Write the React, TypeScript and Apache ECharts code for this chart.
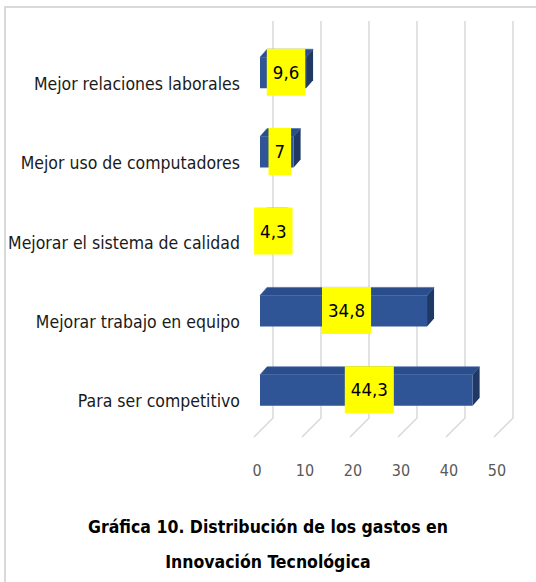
import React, { useEffect, useRef } from "react";
import * as echarts from "echarts";

const categories = [
  "Para ser competitivo",
  "Mejorar trabajo en equipo",
  "Mejorar el sistema de calidad",
  "Mejor uso de computadores",
  "Mejor relaciones laborales",
];
const values = [44.3, 34.8, 4.3, 7, 9.6];
const gridTicks = [0, 10, 20, 30, 40, 50];
const titleLines = ["Gráfica 10. Distribución de los gastos en", "Innovación Tecnológica"];

const FONT = "'Liberation Sans Narrow', 'DejaVu Sans Condensed', 'Open Sans', sans-serif";

export default function App() {
  const ref = useRef<HTMLDivElement>(null);
  useEffect(() => {
    if (!ref.current) return;
    const chart = echarts.init(ref.current, null, { renderer: "svg" });
    const DEPTH = 19;
    const FRONT = { dx: 6, dy: -7 };
    const BD = { dx: 7, dy: -8 };
    const BAR_H = 31;
    chart.setOption({
      animation: false,
      backgroundColor: "#ffffff",
      title: {
        text: titleLines.join("\n"),
        left: "center",
        top: 504,
        textStyle: { fontFamily: FONT, fontSize: 17.5, fontWeight: "bold", lineHeight: 35, color: "#000000" },
      },
      graphic: [
        {
          type: "rect",
          shape: { x: 5, y: 7, width: 560, height: 620 },
          style: { fill: "none", stroke: "#d9d9d9", lineWidth: 2 },
          silent: true,
        },
      ],
      grid: { left: 254, right: 42, top: 40, bottom: 145, containLabel: false, outerBoundsMode: "none" },
      xAxis: {
        type: "value",
        min: 0,
        max: 50,
        interval: 10,
        axisLine: { show: false },
        axisTick: { show: false },
        splitLine: { show: false },
        axisLabel: { fontFamily: FONT, fontSize: 16, color: "#595959", margin: 25, padding: [0, 0, 0, 6] },
      },
      yAxis: {
        type: "category",
        data: categories,
        axisLine: { show: false },
        axisTick: { show: false },
        splitLine: { show: false },
        axisLabel: {
          fontFamily: FONT,
          fontSize: 17.5,
          color: "#1a1a1a",
          margin: 14,
          verticalAlign: "top",
          lineHeight: 8,
        },
      },
      series: [
        {
          type: "custom",
          clip: false,
          silent: true,
          data: gridTicks.map((t) => [t, 0]),
          encode: { x: 0, y: 1 },
          renderItem: (params: any, api: any) => {
            const cs = params.coordSys;
            const p = api.coord([api.value(0), 0]);
            const x = p[0];
            const bottom = cs.y + cs.height;
            const top = cs.y;
            return {
              type: "polyline",
              shape: {
                points: [
                  [x, bottom],
                  [x + DEPTH, bottom - DEPTH],
                  [x + DEPTH, top - DEPTH],
                ],
              },
              style: { stroke: "#d9d9d9", lineWidth: 1.5, fill: "none" },
            };
          },
        },
        {
          type: "custom",
          clip: false,
          silent: true,
          data: values.map((v, i) => [v, i]),
          encode: { x: 0, y: 1 },
          renderItem: (params: any, api: any) => {
            const v = api.value(0);
            const idx = api.value(1);
            const s = api.coord([0, idx]);
            const e = api.coord([v, idx]);
            const cy = s[1] + FRONT.dy;
            const x0 = s[0] + FRONT.dx;
            const x1 = e[0] + FRONT.dx;
            const yt = cy - BAR_H / 2;
            const yb = cy + BAR_H / 2;
            const label = String(v).replace(".", ",");
            return {
              type: "group",
              children: [
                {
                  type: "polygon",
                  shape: { points: [[x0, yt], [x1, yt], [x1 + BD.dx, yt + BD.dy], [x0 + BD.dx, yt + BD.dy]] },
                  style: { fill: "#2a4d8c", stroke: "#3b63a8", lineWidth: 0.6 },
                },
                {
                  type: "polygon",
                  shape: { points: [[x1, yt], [x1 + BD.dx, yt + BD.dy], [x1 + BD.dx, yb + BD.dy], [x1, yb]] },
                  style: { fill: "#1f3864" },
                },
                {
                  type: "rect",
                  shape: { x: x0, y: yt, width: x1 - x0, height: BAR_H },
                  style: { fill: "#2f5597" },
                },
                {
                  type: "text",
                  x: (x0 + x1) / 2 + 3,
                  y: cy - 0.5,
                  style: {
                    text: label,
                    fill: "#000000",
                    font: `18.5px ${FONT}`,
                    align: "center",
                    verticalAlign: "middle",
                    backgroundColor: "#ffff00",
                    padding: [14, 6, 14, 6],
                  },
                },
              ],
            };
          },
        },
      ],
    });
    return () => chart.dispose();
  }, []);
  return (
    <div
      ref={ref}
      style={{ position: "fixed", left: 0, top: 0, width: 536, height: 582, background: "#fff" }}
    />
  );
}
